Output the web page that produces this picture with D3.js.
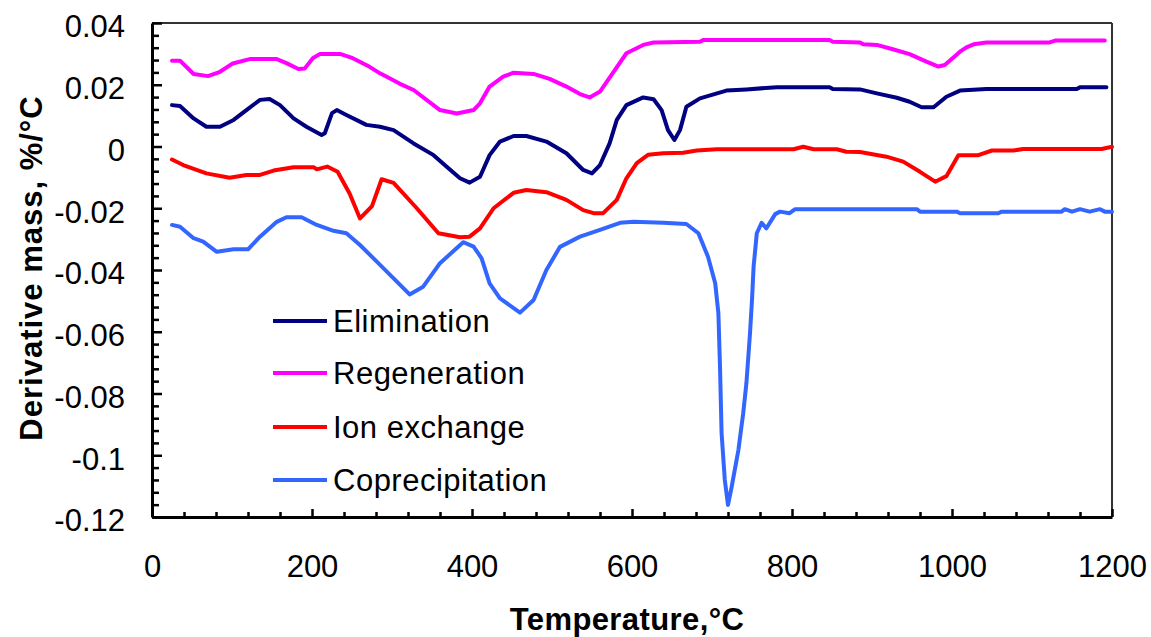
<!DOCTYPE html>
<html><head><meta charset="utf-8">
<script src="https://cdn.jsdelivr.net/npm/d3@7"></script>
<style>
html,body{margin:0;padding:0;background:#fff;}
svg{display:block;font-family:"Liberation Sans",Arial,sans-serif;}
</style></head>
<body>
<svg id="chart" width="1151" height="637"></svg>
<script>
// ---- data (Temperature °C, derivative mass %/°C) ----
const seriesNames = ["Elimination","Regeneration","Ion exchange","Coprecipitation"];
const seriesColors = ["#000080","#ff00ff","#ff0000","#3366ff"];

const elimination = [[25,0.0134],[35,0.0131],[52,0.0091],[68,0.0064],[85,0.0064],[102,0.0086],[118,0.0118],[135,0.0151],[147,0.0154],[160,0.0134],[177,0.0091],[193,0.0064],[212,0.0037],[216,0.0043],[225,0.0108],[231,0.0118],[243,0.0102],[268,0.0070],[285,0.0064],[302,0.0053],[327,0.0010],[352,-0.0028],[368,-0.0065],[385,-0.0103],[397,-0.0117],[410,-0.0098],[422,-0.0028],[435,0.0016],[452,0.0034],[468,0.0034],[493,0.0016],[518,-0.0022],[539,-0.0076],[550,-0.0087],[560,-0.0060],[572,0.0010],[581,0.0086],[593,0.0134],[614,0.0159],[627,0.0153],[637,0.0118],[645,0.0053],[653,0.0021],[660,0.0053],[668,0.0129],[685,0.0156],[718,0.0181],[743,0.0185],[781,0.0192],[847,0.0192],[851,0.0186],[885,0.0185],[906,0.0172],[931,0.0158],[947,0.0145],[962,0.0127],[977,0.0127],[993,0.0161],[1010,0.0181],[1043,0.0186],[1156,0.0186],[1160,0.0192],[1193,0.0192]];

const regeneration = [[25,0.0278],[35,0.0278],[52,0.0235],[70,0.0228],[85,0.0242],[101,0.0269],[122,0.0283],[156,0.0283],[168,0.0270],[183,0.0251],[191,0.0253],[201,0.0286],[210,0.0300],[235,0.0300],[251,0.0286],[272,0.0258],[285,0.0237],[310,0.0203],[327,0.0183],[360,0.0118],[381,0.0107],[402,0.0118],[410,0.0140],[422,0.0194],[439,0.0226],[452,0.0239],[477,0.0235],[497,0.0219],[518,0.0194],[535,0.0170],[547,0.0159],[560,0.0178],[577,0.0242],[593,0.0302],[614,0.0329],[627,0.0337],[685,0.0339],[689,0.0345],[847,0.0345],[851,0.0339],[885,0.0337],[889,0.0331],[906,0.0329],[926,0.0315],[947,0.0299],[968,0.0275],[983,0.0259],[991,0.0264],[1010,0.0307],[1018,0.0321],[1027,0.0331],[1043,0.0337],[1122,0.0337],[1129,0.0343],[1191,0.0343]];

const ionExchange = [[25,-0.0042],[39,-0.0060],[68,-0.0087],[97,-0.0101],[118,-0.0092],[135,-0.0092],[152,-0.0078],[177,-0.0067],[202,-0.0067],[206,-0.0074],[219,-0.0065],[232,-0.0082],[247,-0.0152],[260,-0.0233],[275,-0.0193],[287,-0.0106],[302,-0.0118],[331,-0.0200],[358,-0.0281],[385,-0.0294],[397,-0.0292],[410,-0.0265],[427,-0.0200],[452,-0.0150],[468,-0.0141],[493,-0.0148],[518,-0.0173],[539,-0.0206],[552,-0.0216],[564,-0.0216],[581,-0.0173],[593,-0.0103],[606,-0.0054],[620,-0.0027],[639,-0.0022],[664,-0.0020],[681,-0.0013],[706,-0.0009],[802,-0.0009],[814,-0.0001],[827,-0.0009],[856,-0.0009],[868,-0.0017],[885,-0.0018],[918,-0.0033],[939,-0.0049],[960,-0.0082],[979,-0.0114],[993,-0.0096],[1008,-0.0028],[1033,-0.0028],[1050,-0.0013],[1077,-0.0013],[1089,-0.0008],[1187,-0.0008],[1200,-0.0001]];

const coprecipitation = [[25,-0.0254],[35,-0.0260],[52,-0.0297],[64,-0.0308],[81,-0.0341],[102,-0.0333],[120,-0.0333],[135,-0.0292],[156,-0.0244],[168,-0.0229],[187,-0.0229],[206,-0.0254],[227,-0.0273],[243,-0.0281],[260,-0.0319],[281,-0.0373],[302,-0.0427],[322,-0.0479],[339,-0.0454],[360,-0.0378],[389,-0.0310],[402,-0.0324],[412,-0.0362],[422,-0.0443],[435,-0.0492],[460,-0.0538],[477,-0.0497],[493,-0.0400],[510,-0.0325],[535,-0.0292],[560,-0.0270],[585,-0.0247],[602,-0.0244],[639,-0.0247],[668,-0.0251],[683,-0.0281],[695,-0.0357],[704,-0.0443],[708,-0.0540],[710,-0.0713],[712,-0.0929],[716,-0.1080],[720,-0.1161],[724.6,-0.1102],[733,-0.0983],[739,-0.0864],[743,-0.0767],[747.5,-0.0605],[750,-0.0497],[752,-0.0389],[756,-0.0281],[762,-0.0247],[768,-0.0265],[779,-0.0219],[785,-0.0211],[797,-0.0216],[804,-0.0203],[956,-0.0203],[960,-0.0211],[1006,-0.0211],[1010,-0.0216],[1058,-0.0216],[1062,-0.0211],[1137,-0.0211],[1141,-0.0203],[1150,-0.0211],[1160,-0.0203],[1172,-0.0211],[1185,-0.0203],[1191,-0.0211],[1200,-0.0211]];

const xTicks = [0,200,400,600,800,1000,1200];
const yTicks = [0.04,0.02,0,-0.02,-0.04,-0.06,-0.08,-0.1,-0.12];
const yTickLabels = ["0.04","0.02","0","-0.02","-0.04","-0.06","-0.08","-0.1","-0.12"];
const xTitle = "Temperature,\u00B0C";
const yTitle = "Derivative mass,  %/\u00B0C";

// ---- layout ----
const L = 152, R = 1112, T = 23, B = 517;
const FONT = 31;
const svg = d3.select("#chart");
const x = d3.scaleLinear().domain([0,1200]).range([L,R]);
const y = d3.scaleLinear().domain([-0.12,0.04]).range([B,T]);

const allSeries = [elimination, regeneration, ionExchange, coprecipitation];

// frame top/right
svg.append("line").attr("x1",L).attr("x2",R).attr("y1",T).attr("y2",T).attr("stroke","#333").attr("stroke-width",2);
svg.append("line").attr("x1",R).attr("x2",R).attr("y1",T).attr("y2",B).attr("stroke","#333").attr("stroke-width",2);

// lines
const line = d3.line().x(d=>x(d[0])).y(d=>y(d[1]));
allSeries.forEach((s,i)=>{
  svg.append("path").datum(s).attr("d",line).attr("fill","none")
    .attr("stroke",seriesColors[i]).attr("stroke-width",4)
    .attr("stroke-linejoin","round").attr("stroke-linecap","round");
});

// minor ticks
const xMinor = d3.range(0,1201,40).filter(v=>v%200!==0);
const yMinor = d3.range(-120,41,4).map(v=>v/1000).filter(v=>Math.abs(Math.round(v*1000))%20!==0);

svg.append("g").attr("transform",`translate(0,${B})`)
  .call(d3.axisBottom(x).tickValues(xMinor).tickSize(-5).tickFormat(""))
  .call(g=>g.select(".domain").remove())
  .call(g=>g.selectAll("line").attr("stroke","#000").attr("stroke-width",2.5));
svg.append("g").attr("transform",`translate(${L},0)`)
  .call(d3.axisLeft(y).tickValues(yMinor).tickSize(-7).tickFormat(""))
  .call(g=>g.select(".domain").remove())
  .call(g=>g.selectAll("line").attr("stroke","#000").attr("stroke-width",2.5));

// major axes
const xAxis = svg.append("g").attr("transform",`translate(0,${B})`)
  .call(d3.axisBottom(x).tickValues(xTicks).tickSize(-8).tickSizeOuter(0).tickPadding(38).tickFormat(d3.format("d")));
xAxis.select(".domain").attr("stroke","#000").attr("stroke-width",3);
xAxis.selectAll("line").attr("stroke","#000").attr("stroke-width",2.5);
xAxis.selectAll("text").attr("font-size",FONT).attr("fill","#000").attr("font-family","Liberation Sans, Arial");

const yAxis = svg.append("g").attr("transform",`translate(${L},0)`)
  .call(d3.axisLeft(y).tickValues(yTicks).tickSize(-10).tickSizeOuter(0).tickPadding(27)
    .tickFormat((d,i)=>yTickLabels[i]));
yAxis.select(".domain").attr("stroke","#000").attr("stroke-width",3);
yAxis.selectAll("line").attr("stroke","#000").attr("stroke-width",2.5);
yAxis.selectAll("text").attr("font-size",FONT).attr("fill","#000").attr("dy","0.45em").attr("font-family","Liberation Sans, Arial");

// axis titles
svg.append("text").attr("x",627).attr("y",630).attr("text-anchor","middle")
  .attr("font-size",FONT).attr("font-weight","bold").attr("letter-spacing",0.4).text(xTitle);
svg.append("text").attr("transform","translate(42,268) rotate(-90)").attr("text-anchor","middle")
  .attr("font-size",FONT).attr("font-weight","bold").attr("letter-spacing",1).text(yTitle);

// legend
const legY = [321,373,427,480];
seriesNames.forEach((n,i)=>{
  svg.append("line").attr("x1",273).attr("x2",327).attr("y1",legY[i]).attr("y2",legY[i])
    .attr("stroke",seriesColors[i]).attr("stroke-width",4);
  svg.append("text").attr("x",333).attr("y",legY[i]+11).attr("font-size",FONT)
    .attr("letter-spacing",0.5).text(n);
});
</script>
</body></html>
